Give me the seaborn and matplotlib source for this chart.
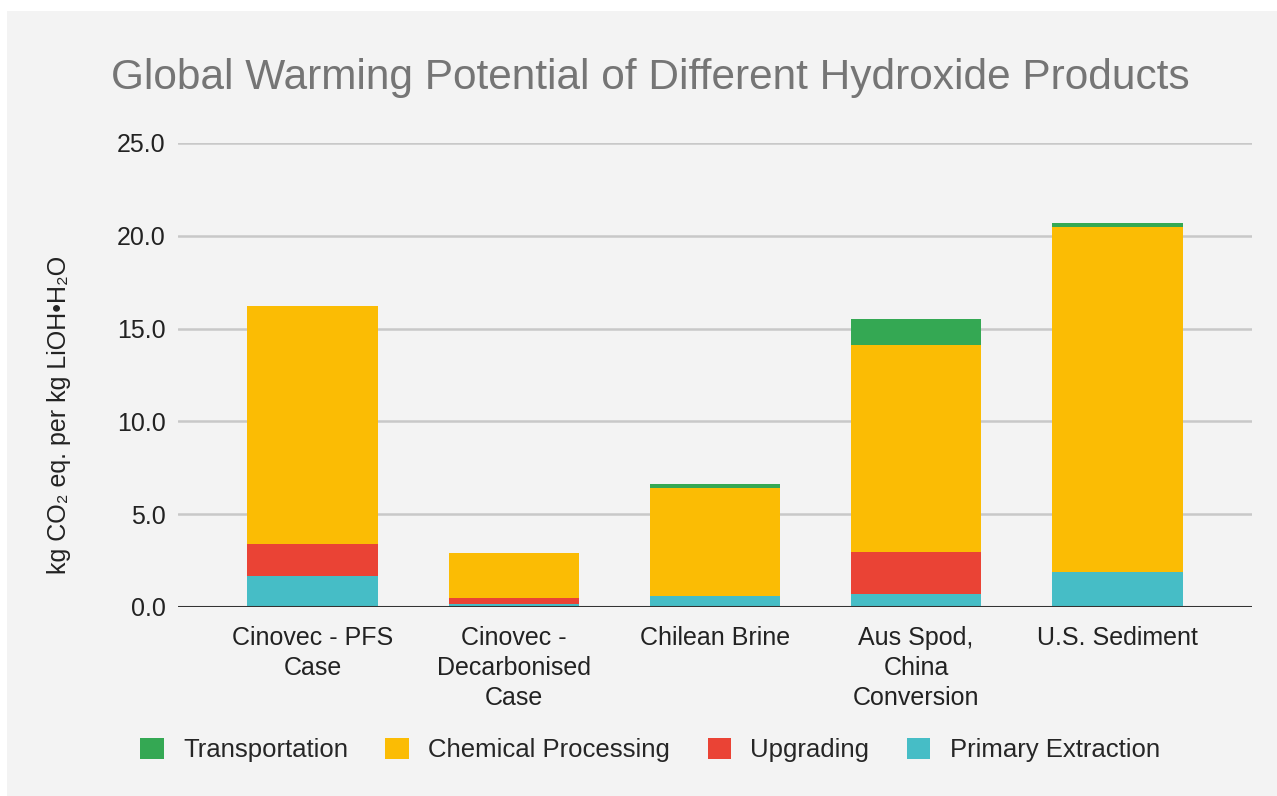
import numpy as np
import pandas as pd
import seaborn as sns
import matplotlib.pyplot as plt
from matplotlib.patches import Patch, Rectangle

# data
products = ["Cinovec - PFS\nCase", "Cinovec -\nDecarbonised\nCase", "Chilean Brine",
            "Aus Spod,\nChina\nConversion", "U.S. Sediment"]
primary_extraction = [1.67, 0.18, 0.61, 0.72, 1.91]
upgrading = [1.75, 0.33, 0.0, 2.24, 0.0]
chemical_processing = [12.8, 2.42, 5.78, 11.16, 18.57]
transportation = [0.0, 0.0, 0.25, 1.4, 0.21]

stages = ["Primary Extraction", "Upgrading", "Chemical Processing", "Transportation"]
colors = {"Primary Extraction": "#46bdc6", "Upgrading": "#ea4335",
          "Chemical Processing": "#fbbc04", "Transportation": "#34a853"}

df = pd.DataFrame({"product": products,
                   "Primary Extraction": primary_extraction,
                   "Upgrading": upgrading,
                   "Chemical Processing": chemical_processing,
                   "Transportation": transportation})

sns.set_style("white")
plt.rcParams['font.family'] = ['Liberation Sans', 'DejaVu Sans']

bg = "#f3f3f3"
fig = plt.figure(figsize=(12.77, 7.96), dpi=100, facecolor="white")
fig.patches.append(Rectangle((7 / 1277, 0), 1, 1 - 11 / 796, transform=fig.transFigure,
                             facecolor=bg, edgecolor="none", zorder=-10))
ax = fig.add_axes([178 / 1277, 189 / 796, 1074 / 1277, 464 / 796])
ax.set_facecolor(bg)

# stacked bars, one layer per stage
bottom = np.zeros(len(products))
for s in stages:
    sns.barplot(data=df, x="product", y=s, color=colors[s], bottom=bottom,
                width=0.65, ax=ax, saturation=1, linewidth=0, zorder=3)
    bottom += df[s].values

ax.set_ylim(0, 25)
ax.set_xlim(-0.67, 4.67)
ax.set_yticks([0, 5, 10, 15, 20, 25])
ax.set_yticklabels([f"{v:.1f}" for v in [0, 5, 10, 15, 20, 25]], fontsize=18, color="#222222")
ax.tick_params(axis="x", labelsize=18, colors="#222222", length=0, pad=14)
ax.tick_params(axis="y", length=0, pad=9)
for lbl in ax.get_xticklabels():
    lbl.set_linespacing(1.3)
ax.yaxis.grid(True, color="#c8c8c8", linewidth=1.8, zorder=0)
ax.axhline(0, color="#333333", linewidth=2.2, zorder=4)
for sp in ax.spines.values():
    sp.set_visible(False)
ax.set_xlabel("")
ax.set_ylabel("kg CO₂ eq. per kg LiOH•H₂O", fontsize=18, color="#222222")
ax.yaxis.set_label_coords(-0.1, 0.414)

fig.text(650 / 1277, 718 / 796, "Global Warming Potential of Different Hydroxide Products",
         ha="center", va="center", fontsize=30.5, color="#757575")

legend_order = ["Transportation", "Chemical Processing", "Upgrading", "Primary Extraction"]
handles = [Patch(facecolor=colors[s], edgecolor="none", label=s) for s in legend_order]
fig.legend(handles=handles, loc="center", bbox_to_anchor=(650 / 1277, 46 / 796), ncol=4,
           frameon=False, fontsize=18.5, handlelength=0.92, handleheight=0.92,
           columnspacing=1.45, handletextpad=0.75)

fig.savefig("out.png", dpi=100, facecolor=fig.get_facecolor())
